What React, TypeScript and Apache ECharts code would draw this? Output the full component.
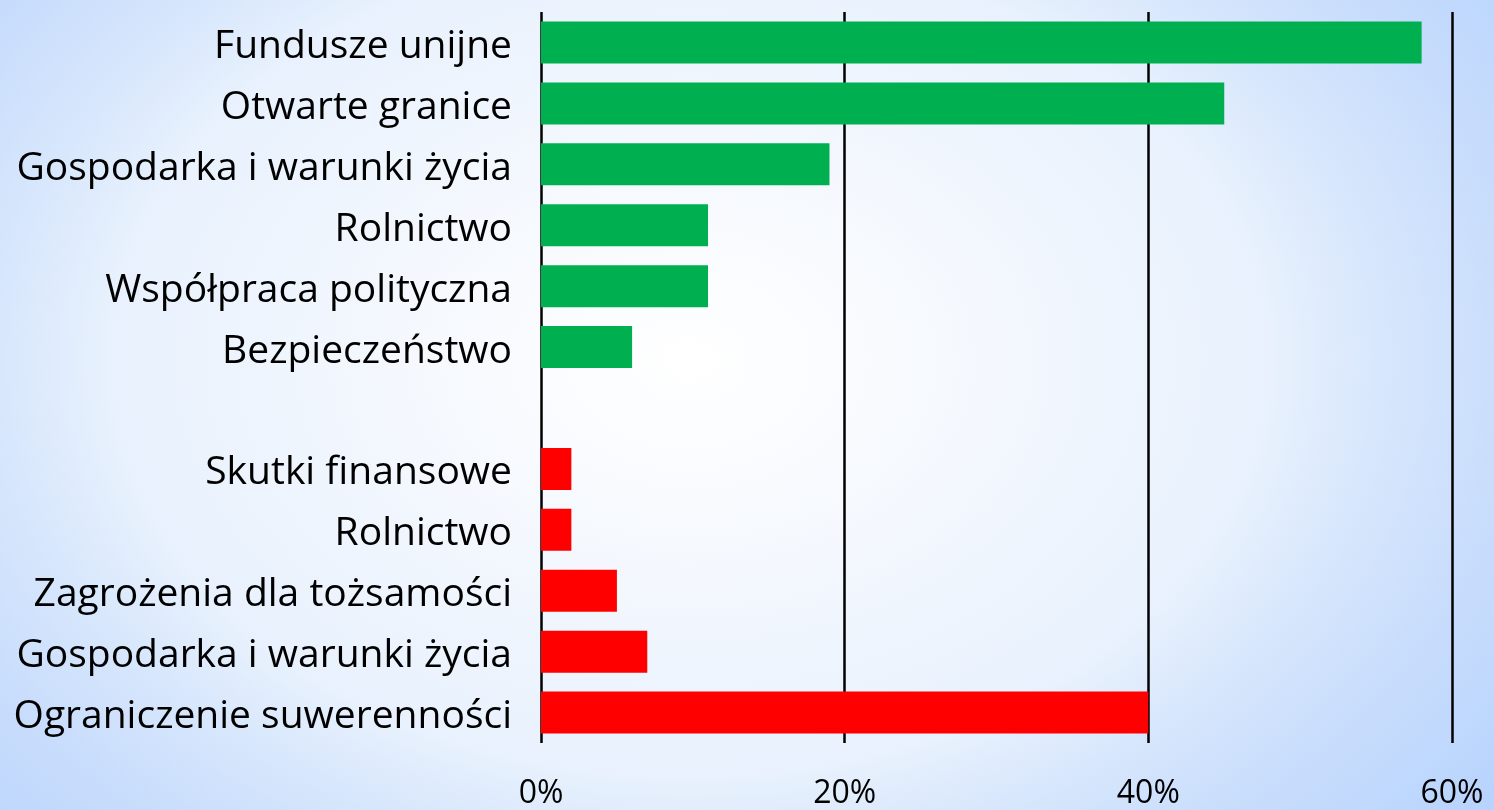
import React, { useEffect, useRef } from "react";
import * as echarts from "echarts";

const categories = [
  "Fundusze unijne",
  "Otwarte granice",
  "Gospodarka i warunki życia",
  "Rolnictwo",
  "Współpraca polityczna",
  "Bezpieczeństwo",
  "",
  "Skutki finansowe",
  "Rolnictwo",
  "Zagrożenia dla tożsamości",
  "Gospodarka i warunki życia",
  "Ograniczenie suwerenności",
];

// percentages (share of answers)
const positiveValues: (number | null)[] = [58, 45, 19, 11, 11, 6, null, null, null, null, null, null];
const negativeValues: (number | null)[] = [null, null, null, null, null, null, null, 2, 2, 5, 7, 40];

const xTicks = [0, 20, 40, 60];

const FONT = "Open Sans";

export default function App() {
  const ref = useRef<HTMLDivElement>(null);
  useEffect(() => {
    if (!ref.current) return;
    const chart = echarts.init(ref.current, undefined, { renderer: "svg" });
    chart.setOption({
      animation: false,
      backgroundColor: "transparent",
      grid: { left: 541, right: 42, top: 12, bottom: 67, containLabel: false },
      xAxis: {
        type: "value",
        min: xTicks[0],
        max: xTicks[xTicks.length - 1],
        interval: xTicks[1] - xTicks[0],
        axisLine: { show: false },
        axisTick: { show: false },
        axisLabel: {
          formatter: (v: number) => `${v}%`,
          color: "#000",
          fontFamily: FONT,
          fontSize: 32,
          margin: 31,
        },
        splitLine: { show: true, lineStyle: { color: "#000", width: 2.5 } },
      },
      yAxis: {
        type: "category",
        data: categories,
        inverse: true,
        axisLine: { show: false },
        axisTick: { show: false },
        axisLabel: {
          color: "#000",
          fontFamily: FONT,
          fontSize: 39,
          margin: 29,
        },
        splitLine: { show: false },
      },
      series: [
        {
          name: "Pozytywne",
          type: "bar",
          stack: "all",
          data: positiveValues,
          barWidth: 42,
          itemStyle: { color: "#00b050" },
        },
        {
          name: "Negatywne",
          type: "bar",
          stack: "all",
          data: negativeValues,
          barWidth: 42,
          itemStyle: { color: "#ff0000" },
        },
      ],
    });
    return () => chart.dispose();
  }, []);
  return (
    <div
      style={{
        position: "fixed",
        left: 0,
        top: 0,
        width: 1494,
        height: 810,
        background:
          "radial-gradient(1000px 720px at 690px 360px, #ffffff 0%, #f6f9fe 25%, #e8f1fd 58%, #d6e6fc 70%, #c9ddfc 82%, #bfd8fd 93%, #b8d3fd 100%)",
      }}
    >
      <div ref={ref} style={{ width: 1494, height: 810 }} />
    </div>
  );
}
